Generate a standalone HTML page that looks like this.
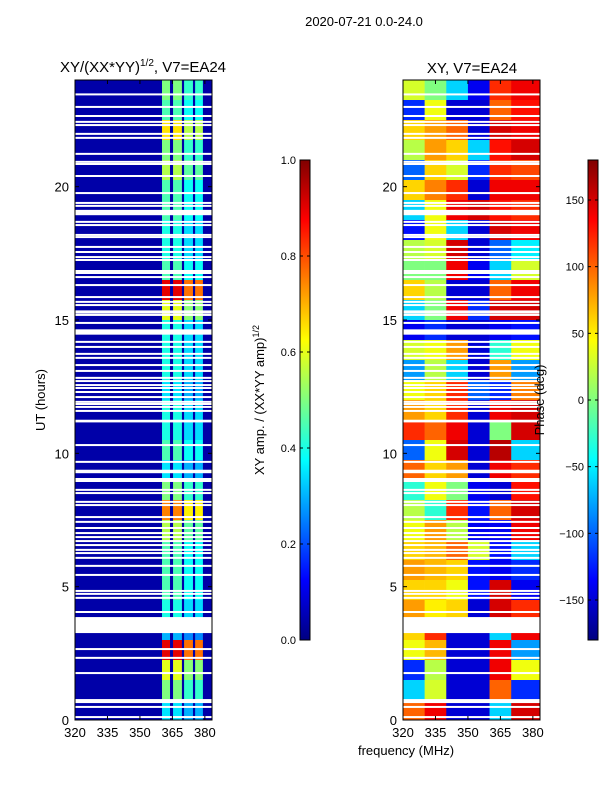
<!DOCTYPE html>
<html><head><meta charset="utf-8"><style>
body{margin:0;background:#fff}
svg{display:block;font-family:"Liberation Sans","DejaVu Sans",sans-serif}
</style></head><body>
<svg id="fig" width="600" height="800" viewBox="0 0 600 800" xmlns="http://www.w3.org/2000/svg">
<rect width="600" height="800" fill="#fff"/>
<text x="364" y="26" font-size="13" text-anchor="middle">2020-07-21 0.0-24.0</text>
<text x="143" y="72" font-size="15" text-anchor="middle">XY/(XX*YY)<tspan font-size="10" dy="-6">1/2</tspan><tspan dy="6">, V7=EA24</tspan></text>
<text x="472" y="73" font-size="15" text-anchor="middle">XY, V7=EA24</text>
<text x="45" y="400" font-size="13" text-anchor="middle" transform="rotate(-90 45 400)">UT (hours)</text>
<text x="406" y="755" font-size="13" text-anchor="middle">frequency (MHz)</text>
<text x="264" y="400" font-size="13" text-anchor="middle" transform="rotate(-90 264 400)">XY amp. / (XX*YY amp)<tspan font-size="9" dy="-5">1/2</tspan></text>
<g id="left"></g><g id="right"></g><g id="cbars"></g>
<text x="544" y="400" font-size="13" text-anchor="middle" transform="rotate(-90 544 400)">Phase (deg)</text>
</svg>
<script>
// ---- data ----
const freqDomain = [320, 383.3];
const utDomain = [0, 24];
const ampBandFreqs = [[360.2, 363.9], [365.3, 369.4], [370.4, 374.5], [375.5, 379.1]];
const ampBandFactor = [1.0, 1.0, 0.85, 0.85];
const ampBackground = 0.04;
// per 0.75h row, from 24h (top) down to 0h
const ampRows = [0.5,0.45,0.65,0.5,0.55,0.45,0.45,0.4,0.4,0.45,0.9,0.6,0.4,0.4,0.4,0.35,
                 0.4,0.4,0.45,0.35,0.5,0.75,0.55,0.45,0.45,0.45,0.4,0.3,0.9,0.6,0.5,0.35];
const phaseCols = [320, 330, 340, 350, 360, 370, 383.3];
const phaseRows = [
 [30,0,-60,-140,120,140],[-120,40,-150,-150,100,130],[60,80,100,-150,150,140],[20,80,60,-60,130,150],
 [-100,60,30,-120,120,110],[60,90,120,-150,140,140],[-60,40,140,150,130,120],[-130,40,-60,-150,150,140],
 [20,30,150,-150,-100,-50],[0,0,140,-140,-60,30],[60,20,-150,-150,100,140],[-60,0,140,-120,150,150],
 [-140,-120,-150,-150,-140,-130],[30,40,80,-150,-30,40],[-80,20,-60,-150,80,-80],[40,60,120,-100,-120,90],
 [80,60,120,-150,140,150],[120,100,140,-150,0,150],[-100,40,150,-150,160,-60],[100,60,80,-150,140,120],
 [-30,40,0,-140,-150,130],[20,-30,120,-130,100,150],[40,80,20,-140,-140,140],[60,70,100,30,-130,-60],
 [80,70,60,-130,-140,-120],[60,60,40,-130,150,-140],[80,50,60,-150,150,120],[60,120,-150,-150,-60,140],
 [40,70,-150,-150,140,-80],[-120,20,-150,-150,140,40],[-60,30,-150,-150,100,-120],[100,140,-150,-150,-60,150]];
// flagged (white) times
const gapUT = [23.46,22.99,22.65,22.43,22.31,21.98,21.83,21.23,20.93,20.85,20.40,19.76,19.39,19.28,18.68,18.56,
 18.19,18.11,17.74,17.55,17.36,17.25,16.61,16.31,15.86,15.68,15.56,15.19,14.89,14.18,13.99,13.73,13.58,13.31,
 13.09,12.83,12.71,12.56,12.45,12.30,12.11,11.93,11.85,11.74,11.59,10.31,9.68,8.63,8.51,8.18,8.06,7.61,7.43,
 7.20,7.01,6.86,6.71,6.56,6.38,6.26,6.08,5.78,5.44,4.84,4.73,4.58,4.05,2.66,2.33,1.76,0.49,0.11];
const gapWideUT = [[19.03,0.2],[16.8,0.15],[15.3,0.12],[14.55,0.2],[11.21,0.1],[9.32,0.13],[9.0,0.15],[3.56,0.6],[0.71,0.15]];
const utTicks = [0, 5, 10, 15, 20];
const freqTicks = [320, 335, 350, 365, 380];
const ampTicks = [0.0, 0.2, 0.4, 0.6, 0.8, 1.0];
const phaseTicks = [-150, -100, -50, 0, 50, 100, 150];

const NS = "http://www.w3.org/2000/svg";
function mk(tag, attrs, parent) { const e = document.createElementNS(NS, tag); for (const k in attrs) e.setAttribute(k, attrs[k]); parent.appendChild(e); return e; }
function jet(t) {
  t = Math.max(0, Math.min(1, t));
  const c = v => Math.round(255 * Math.max(0, Math.min(1, v)));
  return `rgb(${c(1.5-Math.abs(4*t-3))},${c(1.5-Math.abs(4*t-2))},${c(1.5-Math.abs(4*t-1))})`;
}
const plotTop = 80, plotBottom = 720;
const yScale = ut => plotBottom - (ut - utDomain[0]) / (utDomain[1] - utDomain[0]) * (plotBottom - plotTop);
function makeX(x0, x1) { return f => x0 + (f - freqDomain[0]) / (freqDomain[1] - freqDomain[0]) * (x1 - x0); }
const rowH = 24 / ampRows.length;

function axes(g, x0, x1, xs, name) {
  for (const [ut, w] of gapWideUT) {
    const r = mk('rect', {x: x0, y: yScale(ut + w/2), width: x1 - x0, height: yScale(ut - w/2) - yScale(ut + w/2), fill: '#fff'}, g);
    
    
  }
  for (const ut of gapUT) {
    const r = mk('rect', {x: x0, y: yScale(ut) - 1, width: x1 - x0, height: 2, fill: '#fff'}, g);
    
    
  }
  const fr = mk('rect', {x: x0, y: plotTop, width: x1 - x0, height: plotBottom - plotTop, fill: 'none', stroke: '#000', 'stroke-width': 1}, g);
  
  
  for (const u of utTicks) {
    const y = yScale(u);
    mk('line', {x1: x0, x2: x0 + 4, y1: y, y2: y, stroke: '#000'}, g);
    mk('line', {x1: x1, x2: x1 - 4, y1: y, y2: y, stroke: '#000'}, g);
    const t = mk('text', {x: x0 - 6, y: y + 5, 'font-size': 13, 'text-anchor': 'end'}, g);
    t.textContent = u;
    
    
  }
  for (const f of freqTicks) {
    const x = xs(f);
    mk('line', {x1: x, x2: x, y1: plotBottom, y2: plotBottom - 4, stroke: '#000'}, g);
    mk('line', {x1: x, x2: x, y1: plotTop, y2: plotTop + 4, stroke: '#000'}, g);
    const t = mk('text', {x: x, y: plotBottom + 17, 'font-size': 13, 'text-anchor': 'middle'}, g);
    t.textContent = f;
    
    
  }
}

// left amplitude panel
(function () {
  const g = document.getElementById('left');
  const x0 = 75, x1 = 212, xs = makeX(x0, x1);
  const bg = mk('rect', {x: x0, y: plotTop, width: x1 - x0, height: plotBottom - plotTop, fill: jet(ampBackground)}, g);
  
  
  ampRows.forEach((v, i) => {
    const utHi = 24 - i * rowH, utLo = utHi - rowH;
    ampBandFreqs.forEach((b, j) => {
      const r = mk('rect', {x: xs(b[0]), y: yScale(utHi), width: xs(b[1]) - xs(b[0]), height: yScale(utLo) - yScale(utHi), fill: jet(v * ampBandFactor[j])}, g);
      
      
    });
  });
  axes(g, x0, x1, xs, 'amp-panel');
})();

// right phase panel
(function () {
  const g = document.getElementById('right');
  const x0 = 403, x1 = 540, xs = makeX(x0, x1);
  const rh = 24 / phaseRows.length;
  phaseRows.forEach((row, i) => {
    const utHi = 24 - i * rh, utLo = utHi - rh;
    row.forEach((p, j) => {
      const r = mk('rect', {x: xs(phaseCols[j]), y: yScale(utHi), width: xs(phaseCols[j+1]) - xs(phaseCols[j]) + 0.3, height: yScale(utLo) - yScale(utHi) + 0.3, fill: jet((p + 180) / 360)}, g);
      
      
    });
  });
  axes(g, x0, x1, xs, 'phase-panel');
})();

// colorbars
(function () {
  const g = document.getElementById('cbars');
  const defs = mk('defs', {}, g);
  const lg = mk('linearGradient', {id: 'jetg', x1: 0, y1: 1, x2: 0, y2: 0}, defs);
  for (let i = 0; i <= 16; i++) mk('stop', {offset: i / 16, 'stop-color': jet(i / 16)}, lg);
  function bar(x, lo, hi, ticks, name, fmt) {
    const r = mk('rect', {x: x, y: 160, width: 10, height: 480, fill: 'url(#jetg)', stroke: '#000', 'stroke-width': 1}, g);
    
    
    for (const t of ticks) {
      const y = 640 - (t - lo) / (hi - lo) * 480;
      mk('line', {x1: x, x2: x + 3, y1: y, y2: y, stroke: '#000'}, g);
      mk('line', {x1: x + 10, x2: x + 7, y1: y, y2: y, stroke: '#000'}, g);
      const tx = mk('text', {x: x - 4, y: y + 4, 'font-size': 11, 'text-anchor': 'end'}, g);
      tx.textContent = fmt(t);
      
      
    }
  }
  bar(300, 0, 1, ampTicks, 'amp-colorbar', t => t.toFixed(1));
  bar(588, -180, 180, phaseTicks, 'phase-colorbar', t => t < 0 ? '\u2212' + (-t) : '' + t);
})();
</script>
</body></html>
